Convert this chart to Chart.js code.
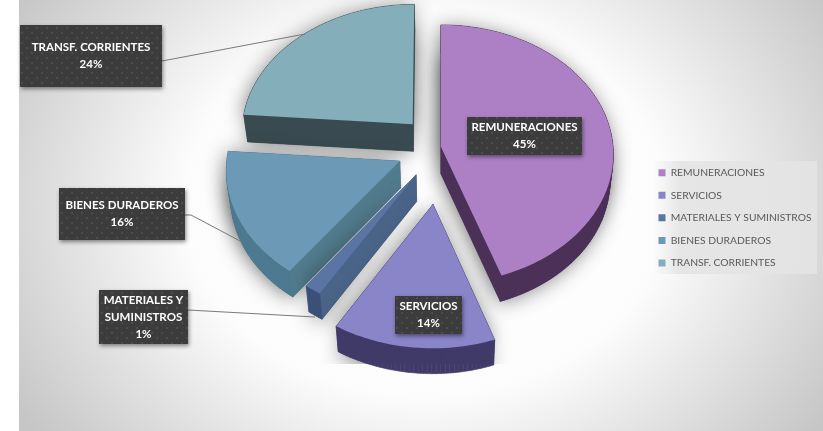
<!DOCTYPE html>
<html><head><meta charset="utf-8">
<style>html,body{margin:0;padding:0;background:#fff}#w{position:relative;width:823px;height:431px}canvas{display:block;filter:blur(.35px)}</style>
<script src="https://cdn.jsdelivr.net/npm/chart.js@4"></script>
</head><body><div id="w"><canvas id="c" width="823" height="431"></canvas></div>
<script>
const categories = ['REMUNERACIONES','SERVICIOS','MATERIALES Y SUMINISTROS','BIENES DURADEROS','TRANSF. CORRIENTES'];
const values = [44.6,14.1,1.45,16.05,23.8];
const topColors = ['#ad80c6','#8a84c8','#5a74a6','#6c9ab6','#84aeb9'];
const sideColors = ['#4b3158','#443e6e','#4a6488','#527c8e','#394b50'];
const outerColors = ['#4b3158','#403a69','#3b5078','#4d7a90','#394b50'];
const explode = [0,75,44,45,42];
const labelLines = [['REMUNERACIONES','45%'],['SERVICIOS','14%'],['MATERIALES Y','SUMINISTROS','1%'],['BIENES DURADEROS','16%'],['TRANSF. CORRIENTES','24%']];
const labelBoxes = [[467,117,115,38],[395,296,67,38],[99,290,89,54],[59,188,126,52],[20,25,142,62]];
const leaders = [null,null,[[188,310],[315,317]],[[185,215],[191,215],[242,242]],[[162,61],[305,34]]];
const VIEW = {ky:.75, persp:.0567, depth:27, shrink:.02};
const drawOrder = [4,0,3,2,1];

function dotPattern(ctx){
  const p=document.createElement('canvas');p.width=10;p.height=10;
  const g=p.getContext('2d');g.fillStyle='#3c3c3c';g.fillRect(0,0,10,10);
  g.fillStyle='#4c4c4c';
  [[1,2],[6,7]].forEach(d=>g.fillRect(d[0],d[1],2,2));
  return ctx.createPattern(p,'repeat');
}
const scene3d = {
  id:'scene3d',
  afterLayout(chart){
    const l=chart.legend; if(!l)return;
    const pad=l.options.labels.padding;
    l.left=658.5-pad;l.right=823;l.top=167.5-pad;l.bottom=302;
  },
  beforeDraw(chart){
    const ctx=chart.ctx;
    ctx.save();
    ctx.fillStyle='#fff';ctx.fillRect(0,0,823,431);
    ctx.beginPath();ctx.rect(19,0,804,431);ctx.clip();
    ctx.translate(425,205);ctx.scale(1,.8);
    const g=ctx.createRadialGradient(0,0,0,0,0,480);
    g.addColorStop(0,'#ffffff');g.addColorStop(.5,'#fcfcfc');g.addColorStop(.85,'#d6d6d6');g.addColorStop(1,'#c6c6c6');
    ctx.fillStyle=g;ctx.fillRect(-500,-500,1000,1000);
    ctx.restore();
    ctx.save();
    const lg=ctx.createLinearGradient(653,0,680,0);
    lg.addColorStop(0,'rgba(232,232,232,0)');lg.addColorStop(1,'rgba(228,228,228,.9)');
    ctx.fillStyle=lg;ctx.fillRect(653,161,164,113);
    ctx.restore();
  },
  beforeDatasetDraw(chart,args){
    const ctx=chart.ctx,arcs=chart.getDatasetMeta(args.index).data;
    const proj=(a,px,py,z)=>{
      const w=1-VIEW.persp*py/a.outerRadius,s=1-VIEW.shrink*z;
      return [a.x+px/w*s, a.y+VIEW.ky*py/w*s+VIEW.depth*z/w];
    };
    drawOrder.forEach(i=>{
      const a=arcs[i],mid=(a.startAngle+a.endAngle)/2,off=explode[i];
      const ox=Math.cos(mid)*off,oy=Math.sin(mid)*off;
      const pts=[[ox,oy]];
      const n=Math.max(4,Math.ceil((a.endAngle-a.startAngle)*40));
      for(let k=0;k<=n;k++){const t=a.startAngle+(a.endAngle-a.startAngle)*k/n;
        pts.push([ox+Math.cos(t)*a.outerRadius,oy+Math.sin(t)*a.outerRadius]);}
      const top=pts.map(p=>proj(a,p[0],p[1],0)),bot=pts.map(p=>proj(a,p[0],p[1],1));
      const path=(arr)=>{ctx.beginPath();arr.forEach((p,j)=>j?ctx.lineTo(p[0],p[1]):ctx.moveTo(p[0],p[1]));ctx.closePath();};
      ctx.save();
      ctx.beginPath();ctx.rect(19,0,804,364);ctx.clip();
      ctx.shadowColor='rgba(0,0,0,.45)';ctx.shadowBlur=20;ctx.shadowOffsetX=-2;ctx.shadowOffsetY=2;
      ctx.fillStyle=sideColors[i];path(bot);ctx.fill();path(top);ctx.fill();
      ctx.restore();
      const quads=[];
      for(let j=0;j<pts.length;j++){const k=(j+1)%pts.length;
        const radial=(j===0||k===0);
        quads.push({d:pts[j][1]+pts[k][1],c:radial?sideColors[i]:outerColors[i],q:[top[j],top[k],bot[k],bot[j]]});}
      quads.sort((p,q)=>p.d-q.d);
      ctx.lineWidth=.6;
      quads.forEach(o=>{ctx.fillStyle=o.c;ctx.strokeStyle=o.c;path(o.q);ctx.fill();ctx.stroke();});
      path(top);ctx.fillStyle=chart.data.datasets[0].backgroundColor[i];ctx.fill();
    });
    return false;
  },
  afterDatasetsDraw(chart){
    const ctx=chart.ctx,pat=dotPattern(ctx);
    leaders.forEach(l=>{ if(!l)return;
      ctx.beginPath();l.forEach((p,j)=>j?ctx.lineTo(p[0],p[1]):ctx.moveTo(p[0],p[1]));
      ctx.strokeStyle='#7a7a7a';ctx.lineWidth=1;ctx.stroke();
    });
    labelBoxes.forEach((b,i)=>{
      ctx.save();
      ctx.shadowColor='rgba(0,0,0,.45)';ctx.shadowBlur=4;ctx.shadowOffsetX=1;ctx.shadowOffsetY=2;
      ctx.fillStyle='#3c3c3c';ctx.fillRect(b[0],b[1],b[2],b[3]);
      ctx.restore();
      ctx.fillStyle=pat;ctx.fillRect(b[0],b[1],b[2],b[3]);
      const lines=labelLines[i],cx=b[0]+b[2]/2,cy=b[1]+b[3]/2;
      ctx.font='bold 11.5px Lato';ctx.textAlign='center';ctx.textBaseline='middle';ctx.fillStyle='#ffffff';
      lines.forEach((t,j)=>ctx.fillText(t,cx,cy+(j-(lines.length-1)/2)*16.8));
    });
  }
};
new Chart(document.getElementById('c'),{
  type:'pie',
  data:{labels:categories,datasets:[{data:values,backgroundColor:topColors,borderWidth:0,offset:explode}]},
  plugins:[scene3d],
  options:{
    responsive:false,animation:false,radius:172,
    layout:{padding:{left:59,bottom:137}},
    plugins:{
      tooltip:{enabled:false},
      legend:{display:true,position:'chartArea',align:'start',
        labels:{boxWidth:7,boxHeight:7,padding:12.3,color:'#595959',font:{family:'Lato',size:10.3}}}
    }
  }
});
</script></body></html>
